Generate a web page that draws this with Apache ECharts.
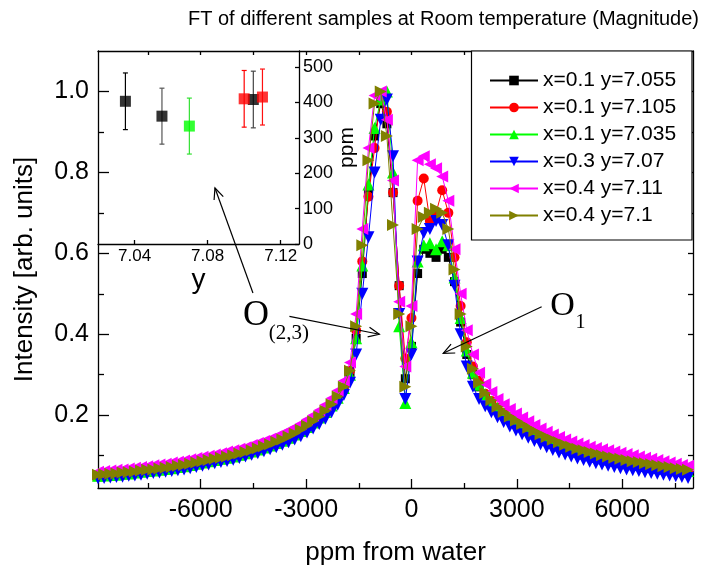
<!DOCTYPE html>
<html><head><meta charset="utf-8">
<script src="https://cdn.jsdelivr.net/npm/echarts@6/dist/echarts.min.js"></script>
<style>html,body{margin:0;padding:0;background:#fff}#c{width:704px;height:574px}</style>
</head><body><div id="c"></div>
<script>
// ---------- data ----------
const ppm = [
-8925,-8750,-8575,-8400,-8225,-8050,-7875,-7700,-7525,-7350,
-7175,-7000,-6825,-6650,-6475,-6300,-6125,-5950,-5775,-5600,
-5425,-5250,-5075,-4900,-4725,-4550,-4375,-4200,-4025,-3850,
-3675,-3500,-3325,-3150,-2975,-2800,-2625,-2450,-2275,-2100,
-1925,-1750,-1575,-1400,-1225,-1050,-875,-700,-525,-350,
-175,0,175,350,525,700,875,1050,1225,1400,
1575,1750,1925,2100,2275,2450,2625,2800,2975,3150,
3325,3500,3675,3850,4025,4200,4375,4550,4725,4900,
5075,5250,5425,5600,5775,5950,6125,6300,6475,6650,
6825,7000,7175,7350,7525,7700,7875];

const black_x01_y7055 = [
0.048,0.049,0.050,0.051,0.053,0.054,0.056,0.058,0.060,0.061,
0.063,0.065,0.067,0.070,0.072,0.075,0.078,0.081,0.084,0.087,
0.090,0.093,0.096,0.100,0.104,0.108,0.113,0.118,0.123,0.129,
0.135,0.142,0.150,0.159,0.169,0.180,0.192,0.206,0.222,0.241,
0.265,0.30,0.39,0.55,0.75,0.89,0.97,0.92,0.75,0.52,
0.29,0.37,0.55,0.61,0.60,0.59,0.61,0.59,0.53,0.43,
0.35,0.30,0.27,0.250,0.232,0.216,0.203,0.192,0.182,0.173,
0.164,0.156,0.148,0.141,0.134,0.128,0.122,0.117,0.112,0.108,
0.104,0.100,0.096,0.093,0.090,0.087,0.084,0.081,0.079,0.076,
0.074,0.071,0.069,0.067,0.064,0.062,0.060];

const red_x01_y7105 = [
0.051,0.052,0.053,0.054,0.056,0.057,0.059,0.061,0.063,0.064,
0.066,0.068,0.070,0.073,0.075,0.078,0.081,0.084,0.087,0.090,
0.093,0.096,0.099,0.103,0.107,0.111,0.116,0.121,0.126,0.132,
0.138,0.145,0.153,0.162,0.172,0.183,0.195,0.209,0.225,0.244,
0.268,0.31,0.41,0.58,0.74,0.86,0.99,0.95,0.75,0.52,
0.34,0.44,0.73,0.785,0.68,0.70,0.756,0.70,0.59,0.47,
0.38,0.32,0.285,0.253,0.235,0.219,0.206,0.195,0.185,0.176,
0.167,0.159,0.151,0.144,0.137,0.131,0.125,0.120,0.115,0.111,
0.107,0.103,0.099,0.096,0.093,0.090,0.087,0.084,0.082,0.079,
0.077,0.074,0.072,0.070,0.067,0.065,0.063];

const green_x01_y7035 = [
0.050,0.051,0.052,0.053,0.055,0.056,0.058,0.060,0.062,0.063,
0.065,0.067,0.069,0.072,0.074,0.077,0.080,0.083,0.086,0.089,
0.092,0.095,0.098,0.102,0.106,0.110,0.115,0.120,0.125,0.131,
0.137,0.144,0.152,0.161,0.171,0.182,0.194,0.208,0.224,0.243,
0.267,0.30,0.39,0.57,0.77,0.91,0.98,1.00,0.80,0.42,
0.23,0.38,0.58,0.62,0.625,0.61,0.63,0.62,0.54,0.44,
0.36,0.305,0.275,0.252,0.234,0.218,0.205,0.194,0.184,0.175,
0.166,0.158,0.150,0.143,0.136,0.130,0.124,0.119,0.114,0.110,
0.106,0.102,0.098,0.095,0.092,0.089,0.086,0.083,0.081,0.078,
0.076,0.073,0.071,0.069,0.066,0.064,0.062];

const blue_x03_y707 = [
0.044,0.045,0.046,0.047,0.048,0.050,0.051,0.053,0.055,0.057,
0.058,0.060,0.062,0.064,0.066,0.069,0.072,0.075,0.078,0.081,
0.084,0.087,0.090,0.094,0.098,0.102,0.106,0.111,0.116,0.121,
0.127,0.133,0.140,0.148,0.157,0.167,0.178,0.191,0.207,0.226,
0.250,0.28,0.35,0.50,0.64,0.80,0.93,0.98,0.84,0.45,
0.24,0.35,0.58,0.65,0.66,0.68,0.67,0.62,0.52,0.40,
0.32,0.27,0.240,0.222,0.207,0.195,0.183,0.172,0.162,0.153,
0.144,0.136,0.128,0.121,0.114,0.108,0.103,0.098,0.093,0.089,
0.085,0.081,0.078,0.075,0.072,0.069,0.066,0.064,0.062,0.059,
0.057,0.055,0.053,0.051,0.049,0.047,0.045];

const magenta_x04_y711 = [
0.060,0.062,0.063,0.065,0.066,0.068,0.070,0.072,0.074,0.076,
0.078,0.080,0.083,0.085,0.088,0.091,0.094,0.097,0.100,0.103,
0.106,0.110,0.113,0.117,0.121,0.126,0.131,0.136,0.142,0.148,
0.155,0.162,0.170,0.179,0.189,0.200,0.212,0.226,0.242,0.261,
0.285,0.33,0.45,0.66,0.86,0.99,1.00,0.93,0.78,0.48,
0.32,0.47,0.83,0.84,0.82,0.81,0.79,0.73,0.61,0.50,
0.41,0.35,0.305,0.277,0.257,0.240,0.227,0.215,0.204,0.194,
0.185,0.176,0.167,0.159,0.152,0.146,0.140,0.135,0.130,0.126,
0.122,0.119,0.116,0.113,0.110,0.107,0.104,0.101,0.098,0.095,
0.092,0.089,0.086,0.083,0.080,0.077,0.075];

const olive_x04_y71 = [
0.053,0.054,0.055,0.056,0.058,0.059,0.061,0.063,0.065,0.066,
0.068,0.070,0.072,0.075,0.077,0.080,0.083,0.086,0.089,0.092,
0.095,0.098,0.101,0.105,0.109,0.113,0.118,0.123,0.128,0.134,
0.140,0.147,0.155,0.164,0.174,0.185,0.197,0.211,0.227,0.246,
0.270,0.31,0.42,0.62,0.83,0.97,1.00,0.89,0.67,0.45,
0.27,0.42,0.66,0.69,0.70,0.71,0.70,0.66,0.56,0.45,
0.37,0.315,0.28,0.255,0.237,0.221,0.208,0.197,0.187,0.178,
0.169,0.161,0.153,0.146,0.139,0.133,0.127,0.122,0.117,0.113,
0.109,0.105,0.101,0.098,0.095,0.092,0.089,0.086,0.084,0.081,
0.079,0.076,0.074,0.072,0.069,0.067,0.065];

const seriesNames = ['x=0.1 y=7.055','x=0.1 y=7.105','x=0.1 y=7.035','x=0.3 y=7.07','x=0.4 y=7.11','x=0.4 y=7.1'];
const seriesValues = [black_x01_y7055, red_x01_y7105, green_x01_y7035, blue_x03_y707, magenta_x04_y711, olive_x04_y71];

const xTicks = [-6000,-3000,0,3000,6000];
const xMinorTicks = [-7500,-4500,-1500,1500,4500,7500];
const yTicks = [0.2,0.4,0.6,0.8,1.0];
const yMinorTicks = [0.1,0.3,0.5,0.7,0.9];

// inset: ppm vs y
const insetY   = [7.035, 7.055, 7.07, 7.105, 7.10, 7.11];
const insetPpm = [403, 361, 333, 408, 410, 415];
const insetErr = [80, 79, 79, 80, 80, 79];
const insetXTicks = [7.04, 7.08, 7.12];
const insetYTicks = [0,100,200,300,400,500];

// annotations (main-axis data coordinates)
const arrowO23 = [[-3475, 0.444], [-915, 0.400]];
const arrowO1  = [[3707, 0.468], [905, 0.353]];
const arrowInset = [[-4513, 0.502], [-5595, 0.7615]];
const labelO23 = {O: [-4427, 0.446], sub: [-3488, 0.403]};
const labelO1  = {O: [4299, 0.470], sub: [4812, 0.429]};

// ---------- styles ----------
const colors = ['#000000','#ff0000','#00ff00','#0000ff','#ff00ff','#808000'];
const symbols = ['rect','circle','triangle','triangle','triangle','triangle'];
const symbolSizes = [9,10,12,12,12,12];
const symbolRotates = [0,0,0,180,90,-90];
const insetColors = ['#000','#000','#00ff00','#000','#ff0000','#ff0000'];
const insetBarColors = ['#000','#555','#33e033','#444','#ff0000','#ff1010'];
const FONT = '"Liberation Sans", Arial, sans-serif';
const axisLineStyle = {color:'#000', width:1.3};
const plain = v => String(v);

const chart = echarts.init(document.getElementById('c'), null, {renderer:'canvas'});

const mainSeries = seriesValues.map((vals, i) => ({
  name: seriesNames[i], type:'line', xAxisIndex:0, yAxisIndex:0,
  data: ppm.map((x, k) => [x, vals[k]]),
  symbol: symbols[i], symbolSize: symbolSizes[i], symbolRotate: symbolRotates[i],
  showAllSymbol: true,
  lineStyle: {color: colors[i], width: 1},
  itemStyle: {color: colors[i]},
  emphasis: {disabled: true}, z: 2 + i
}));

const gridMain = {left:98, top:51, width:595, height:437};

const option = {
  animation: false,
  backgroundColor: '#fff',
  textStyle: {fontFamily: FONT},
  title: {text: 'FT of different samples at Room temperature (Magnitude)', left: 183, top: 4,
    textStyle: {fontSize: 20, fontWeight: 'normal', color: '#000', fontFamily: FONT}},
  grid: [
    Object.assign({}, gridMain),
    {left:98, top:51, width:201, height:193},
    Object.assign({}, gridMain)
  ],
  legend: {
    orient:'vertical', left: 484, top: 65, itemWidth: 48, itemHeight: 12, itemGap: 6,
    selectedMode: false, data: seriesNames,
    textStyle: {fontSize: 21, color:'#000', fontFamily: FONT}
  },
  xAxis: [
    {gridIndex:0, type:'value', min:-8925, max:8016, position:'bottom',
     axisLine:{onZero:false, lineStyle:axisLineStyle},
     axisTick:{inside:true, length:9, customValues:xTicks, lineStyle:axisLineStyle},
     axisLabel:{customValues:xTicks, fontSize:25, color:'#000', margin:10, fontFamily:FONT, formatter: plain},
     splitLine:{show:false},
     name:'ppm from water', nameLocation:'middle', nameGap:52,
     nameTextStyle:{fontSize:26, color:'#000', fontFamily:FONT}},
    {gridIndex:0, type:'value', min:-8925, max:8016, position:'top',
     axisLine:{onZero:false, lineStyle:axisLineStyle},
     axisTick:{inside:true, length:4, customValues:xTicks.concat(xMinorTicks), lineStyle:axisLineStyle},
     axisLabel:{show:false}, splitLine:{show:false}},
    {gridIndex:1, type:'value', min:7.02, max:7.13, position:'bottom',
     axisLine:{onZero:false, lineStyle:axisLineStyle},
     axisTick:{inside:true, length:4, customValues:insetXTicks, lineStyle:axisLineStyle},
     axisLabel:{customValues:insetXTicks, fontSize:17, color:'#000', margin:4, fontFamily:FONT,
       formatter: v => Number(v).toFixed(2)},
     splitLine:{show:false},
     name:'y', nameLocation:'middle', nameGap:22,
     nameTextStyle:{fontSize:28, color:'#000', fontFamily:FONT}},
    {gridIndex:2, type:'value', min:-8925, max:8016, position:'bottom',
     axisLine:{show:false, onZero:false},
     axisTick:{inside:true, length:5, customValues:xMinorTicks, lineStyle:axisLineStyle},
     axisLabel:{show:false}, splitLine:{show:false}}
  ],
  yAxis: [
    {gridIndex:0, type:'value', min:0.02, max:1.1, position:'left',
     axisLine:{show:true, onZero:false, lineStyle:axisLineStyle},
     axisTick:{show:true, inside:true, length:11, customValues:yTicks, lineStyle:axisLineStyle},
     axisLabel:{customValues:yTicks, fontSize:25, color:'#000', margin:9, fontFamily:FONT,
       formatter: v => Number(v).toFixed(1)},
     splitLine:{show:false},
     name:'Intensity [arb. units]', nameLocation:'middle', nameGap:60,
     nameTextStyle:{fontSize:26, color:'#000', fontFamily:FONT}},
    {gridIndex:0, type:'value', min:0.02, max:1.1, position:'right',
     axisLine:{show:true, onZero:false, lineStyle:axisLineStyle},
     axisTick:{show:true, inside:true, length:5, customValues:yTicks.concat(yMinorTicks), lineStyle:axisLineStyle},
     axisLabel:{show:false}, splitLine:{show:false}},
    {gridIndex:1, type:'value', min:0, max:545, position:'right',
     axisLine:{show:true, onZero:false, lineStyle:axisLineStyle},
     axisTick:{show:true, inside:true, length:4, customValues:insetYTicks, lineStyle:axisLineStyle},
     axisLabel:{customValues:insetYTicks, fontSize:18, color:'#000', margin:4, fontFamily:FONT, formatter: plain},
     splitLine:{show:false},
     name:'ppm', nameLocation:'middle', nameGap:38,
     nameTextStyle:{fontSize:21, color:'#000', fontFamily:FONT}},
    {gridIndex:2, type:'value', min:0.02, max:1.1, position:'left',
     axisLine:{show:false, onZero:false},
     axisTick:{show:true, inside:true, length:6, customValues:yMinorTicks, lineStyle:axisLineStyle},
     axisLabel:{show:false}, splitLine:{show:false}}
  ],
  series: mainSeries.concat([
    {type:'custom', xAxisIndex:2, yAxisIndex:2, z:10,
     data: insetY.map((y, i) => [y, insetPpm[i] - insetErr[i], insetPpm[i] + insetErr[i], i]),
     renderItem: function (params, api) {
       const x = api.value(0), lo = api.value(1), hi = api.value(2), i = api.value(3);
       const p1 = api.coord([x, lo]), p2 = api.coord([x, hi]);
       const c = insetBarColors[i], w = 2.5;
       const st = {stroke: c, lineWidth: 1.2};
       return {type:'group', children:[
         {type:'line', shape:{x1:p1[0], y1:p1[1], x2:p2[0], y2:p2[1]}, style:st},
         {type:'line', shape:{x1:p1[0]-w, y1:p1[1], x2:p1[0]+w, y2:p1[1]}, style:st},
         {type:'line', shape:{x1:p2[0]-w, y1:p2[1], x2:p2[0]+w, y2:p2[1]}, style:st}
       ]};
     }},
    {type:'scatter', xAxisIndex:2, yAxisIndex:2, z:11, symbol:'rect', symbolSize:11,
     data: insetY.map((y, i) => ({value:[y, insetPpm[i]], itemStyle:{color: insetColors[i]}})),
     emphasis:{disabled:true}}
  ])
};
chart.setOption(option);

// ---------- annotations via axis conversion ----------
function px(pt){ return chart.convertToPixel({xAxisIndex:0, yAxisIndex:0}, pt); }
function arrow(pair){
  const a = px(pair[0]), b = px(pair[1]);
  const ang = Math.atan2(b[1]-a[1], b[0]-a[0]);
  const L = 12, h = 0.42;
  const h1 = [b[0]-L*Math.cos(ang-h), b[1]-L*Math.sin(ang-h)];
  const h2 = [b[0]-L*Math.cos(ang+h), b[1]-L*Math.sin(ang+h)];
  return [
    {type:'polyline', shape:{points:[a,b]}, style:{stroke:'#000', lineWidth:1.2, fill:null}, z:50},
    {type:'polyline', shape:{points:[h1,b,h2]}, style:{stroke:'#000', lineWidth:1.2, fill:null}, z:50}
  ];
}
function txt(pt, s, size){
  const p = px(pt);
  return {type:'text', x:p[0], y:p[1], z:50,
    style:{text:s, fill:'#000', font: size + 'px "Liberation Serif", "Times New Roman", serif',
      align:'center', verticalAlign:'middle', textAlign:'center', textVerticalAlign:'middle'}};
}
const tl = chart.convertToPixel({xAxisIndex:0, yAxisIndex:0}, [-8925, 1.1]);
const br = chart.convertToPixel({xAxisIndex:0, yAxisIndex:0}, [8016, 0.02]);
chart.setOption({graphic: [].concat(
  arrow(arrowO23), arrow(arrowO1), arrow(arrowInset),
  [txt(labelO23.O, 'O', 36), txt(labelO23.sub, '(2,3)', 21),
   txt(labelO1.O, 'O', 34), txt(labelO1.sub, '1', 20),
   {type:'rect', z:1, shape:{x: 471.5, y: tl[1], width: br[0] - 471.5 - 1, height: 189},
    style:{fill:'#fff', stroke:'#000', lineWidth:1.2}}]
)});
</script></body></html>
